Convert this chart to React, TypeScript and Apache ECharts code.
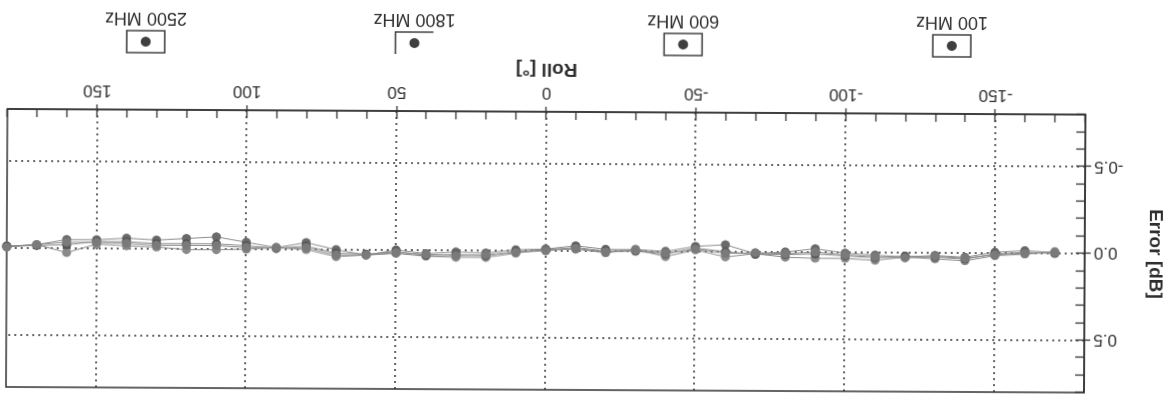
import React, { useEffect, useRef } from "react";
import * as echarts from "echarts";

const rollDeg = [-170, -160, -150, -140, -130, -120, -110, -100, -90, -80, -70, -60, -50, -40, -30, -20, -10, 0, 10, 20, 30, 40, 50, 60, 70, 80, 90, 100, 110, 120, 130, 140, 150, 160, 170, 180];
const seriesNames = ["100 MHz", "600 MHz", "1800 MHz", "2500 MHz"];
const err100 = [-0.005, -0.015, -0.005, 0.025, 0.015, 0.025, 0.015, 0.005, -0.02, 0, 0.01, -0.04, -0.03, 0, -0.01, -0.01, -0.03, -0.01, -0.005, 0.015, 0.01, 0.02, 0, 0.03, 0, -0.04, -0.01, -0.04, -0.07, -0.06, -0.05, -0.06, -0.05, -0.05, -0.02, -0.01];
const err600 = [-0.01, 0.005, 0.015, 0.045, 0.035, 0.025, 0.045, 0.035, 0.035, 0.03, 0.01, 0.03, -0.01, 0.03, -0.01, 0.01, -0.01, -0.01, 0.015, 0.04, 0.04, 0.035, 0.02, 0.03, 0.04, 0, -0.01, 0, 0.004, 0.004, -0.01, -0.016, -0.025, 0.025, -0.02, -0.01];
const err1800 = [0, -0.005, 0.005, 0.035, 0.025, 0.02, 0.03, 0.02, 0.01, 0.015, 0.015, 0, -0.02, 0.015, 0, 0, -0.02, -0.005, 0.005, 0.03, 0.025, 0.03, 0.01, 0.025, 0.02, -0.02, -0.005, -0.02, -0.03, -0.03, -0.03, -0.04, -0.04, -0.02, -0.015, -0.01];
const err2500 = [-0.005, 0, 0.01, 0.03, 0.02, 0.03, 0.025, 0.015, 0, 0.01, 0.005, 0.01, -0.015, 0.01, -0.005, 0.005, -0.015, 0, 0.01, 0.025, 0.03, 0.025, 0.015, 0.03, 0.03, -0.01, -0.01, -0.01, -0.02, -0.02, -0.02, -0.03, -0.035, -0.035, -0.02, -0.005];
const xTickLabels = [-150, -100, -50, 0, 50, 100, 150];
const yTickLabels = [-0.5, 0, 0.5];

const seriesData = [err100, err600, err1800, err2500];
const markerColors = ["#6a6a6a", "#8a8a8a", "#555555", "#7a7a7a"];
const FONT = '"Liberation Sans", Arial, sans-serif';
const INK = "#2e2e2e";

export default function App() {
  const ref = useRef<HTMLDivElement>(null);
  useEffect(() => {
    const chart = echarts.init(ref.current!, undefined, { renderer: "svg" });
    const gridLeft = 91;
    const gridRight = 7;
    const legendX0 = 225;
    const legendStep = 268.7;
    const legendGraphics: any[] = [];
    seriesNames.forEach((name, i) => {
      const cx = legendX0 + i * legendStep;
      if (i === 2) {
        legendGraphics.push({
          type: "polyline",
          shape: { points: [[cx + 19, 339], [cx + 19, 361], [cx - 19, 361]] },
          style: { stroke: "#444", lineWidth: 1.6, fill: "none" },
        });
      } else {
        legendGraphics.push({
          type: "rect",
          shape: { x: cx - 19, y: 339, width: 38, height: 22 },
          style: { stroke: "#444", lineWidth: 1.6, fill: "#fff" },
        });
      }
      legendGraphics.push({
        type: "circle",
        shape: { cx, cy: 350, r: 5 },
        style: { fill: "#3f3f3f" },
      });
      legendGraphics.push({
        type: "text",
        x: cx,
        y: 373,
        style: {
          text: name,
          fill: INK,
          font: `18px ${FONT}`,
          textAlign: "center",
          textVerticalAlign: "middle",
          align: "center",
          verticalAlign: "middle",
        },
      });
    });

    const gridMarks = [
      ...yTickLabels.map((v) => ({ yAxis: v })),
      ...xTickLabels.map((v) => ({ xAxis: v })),
    ];

    chart.setOption({
      animation: false,
      backgroundColor: "#ffffff",
      textStyle: { fontFamily: FONT },
      grid: {
        left: gridLeft,
        right: gridRight,
        top: 4,
        bottom: 112,
        show: true,
        borderColor: "#333",
        borderWidth: 1.5,
        backgroundColor: "transparent",
      },
      xAxis: [
        {
          type: "value",
          min: -180,
          max: 180,
          interval: 10,
          position: "bottom",
          name: "Roll [°]",
          nameLocation: "middle",
          nameGap: 26,
          nameTextStyle: { fontWeight: "bold", fontSize: 19, color: INK, fontFamily: FONT },
          axisLine: { show: true, onZero: false, lineStyle: { color: "#333", width: 1.5 } },
          axisTick: { show: true, inside: true, length: 8, lineStyle: { color: "#333", width: 1.3 } },
          axisLabel: {
            margin: 10,
            fontSize: 17,
            color: INK,
            fontFamily: FONT,
            formatter: (v: number) => (Math.abs(v % 50) < 1e-6 && Math.abs(v) < 175 ? String(Math.round(v)) : ""),
          },
          splitLine: { show: false },
        },
        {
          type: "value",
          min: -180,
          max: 180,
          position: "bottom",
          axisLine: { show: false, onZero: false },
          axisLabel: { show: false },
          splitLine: { show: false },
          axisTick: { show: true, inside: false, length: 5, customValues: xTickLabels, lineStyle: { color: "#333", width: 1.3 } },
        },
      ],
      yAxis: [
        {
          type: "value",
          min: -0.8,
          max: 0.8,
          interval: 0.1,
          position: "left",
          name: "Error [dB]",
          nameLocation: "middle",
          nameRotate: 90,
          nameGap: 62,
          nameTextStyle: { fontWeight: "bold", fontSize: 19, color: INK, fontFamily: FONT },
          axisLine: { show: true, onZero: false, lineStyle: { color: "#333", width: 1.5 } },
          axisTick: { show: true, inside: true, length: 9, lineStyle: { color: "#333", width: 1.3 } },
          axisLabel: {
            margin: 9,
            fontSize: 17,
            color: INK,
            fontFamily: FONT,
            formatter: (v: number) => {
              const r = Math.round(v * 2) / 2;
              if (Math.abs(v - r) > 1e-6 || Math.abs(r) > 0.6) return "";
              return Math.abs(r) < 1e-9 ? "0.0" : r.toFixed(1);
            },
          },
          splitLine: { show: false },
        },
        {
          type: "value",
          min: -0.8,
          max: 0.8,
          position: "left",
          axisLine: { show: false, onZero: false },
          axisLabel: { show: false },
          splitLine: { show: false },
          axisTick: { show: true, inside: false, length: 6, customValues: yTickLabels, lineStyle: { color: "#333", width: 1.3 } },
        },
      ],
      graphic: legendGraphics,
      series: seriesNames.map((name, i) => ({
        name,
        type: "line",
        xAxisIndex: 0,
        yAxisIndex: 0,
        data: rollDeg.map((x, j) => [x, seriesData[i][j]]),
        symbol: "circle",
        symbolSize: 9,
        itemStyle: { color: markerColors[i] },
        lineStyle: { color: "#8c8c8c", width: 1 },
        z: 3 + i,
        markLine:
          i === 0
            ? {
                silent: true,
                symbol: "none",
                label: { show: false },
                lineStyle: { color: "#333", type: [2, 4], width: 1.5 },
                data: gridMarks,
                z: 1,
              }
            : undefined,
      })),
    });
    return () => chart.dispose();
  }, []);
  return (
    <div
      ref={ref}
      style={{
        position: "fixed",
        left: 0,
        top: 0,
        width: 1176,
        height: 394,
        background: "#fff",
        transform: "rotate(180.3deg)",
        transformOrigin: "50% 50%",
      }}
    />
  );
}
